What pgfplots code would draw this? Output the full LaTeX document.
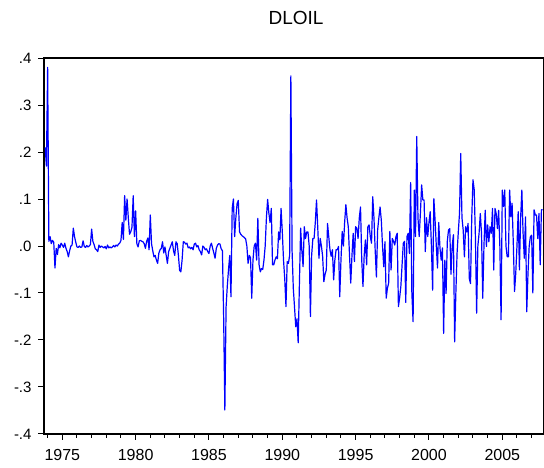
\documentclass[border=0pt]{standalone}
\usepackage{fontspec}
\setmainfont{Liberation Sans}
\usepackage{pgfplots}
\usepackage{pgfplotstable}
\pgfplotsset{compat=1.18}

% DLOIL, monthly, starting 1973M11
\pgfplotstableread[row sep=\\]{
y\\
0.21\\ 0.17\\
0.38\\ 0.01\\ 0.02\\ 0.005\\ 0.012\\ 0.008\\ -0.047\\ -0.005\\ -0.018\\ 0.003\\ -0.004\\ 0.006\\
0.002\\ -0.003\\ 0.006\\ -0.005\\ -0.012\\ -0.023\\ -0.01\\ 0.0\\ 0.002\\ 0.038\\ 0.02\\ 0.008\\
-0.002\\ -0.003\\ 0.0\\ -0.003\\ -0.002\\ 0.011\\ -0.001\\ -0.003\\ 0.001\\ -0.002\\ 0.0\\ 0.003\\
0.036\\ 0.01\\ 0.003\\ -0.006\\ -0.008\\ -0.012\\ 0.002\\ -0.003\\ 0.0\\ -0.002\\ -0.004\\ -0.001\\
-0.006\\ 0.002\\ -0.004\\ -0.002\\ -0.004\\ -0.002\\ 0.001\\ -0.002\\ 0.002\\ 0.0\\ 0.004\\ 0.006\\
0.012\\ 0.05\\ 0.014\\ 0.107\\ 0.055\\ 0.1\\ 0.06\\ 0.025\\ 0.03\\ 0.04\\ 0.107\\ 0.02\\
0.075\\ 0.005\\ -0.002\\ 0.011\\ 0.012\\ 0.01\\ 0.009\\ 0.005\\ -0.005\\ 0.01\\ 0.017\\ -0.008\\
0.066\\ 0.005\\ -0.01\\ -0.023\\ -0.02\\ -0.03\\ -0.037\\ -0.015\\ -0.008\\ -0.005\\ 0.009\\ -0.015\\
-0.002\\ -0.02\\ -0.037\\ -0.012\\ -0.005\\ 0.002\\ 0.009\\ -0.01\\ -0.02\\ 0.009\\ 0.005\\ -0.02\\
-0.052\\ -0.055\\ -0.03\\ 0.009\\ 0.008\\ 0.004\\ 0.006\\ -0.004\\ -0.002\\ -0.006\\ -0.003\\ -0.008\\
0.004\\ 0.006\\ -0.002\\ 0.001\\ -0.008\\ -0.012\\ -0.019\\ 0.0\\ -0.003\\ -0.008\\ -0.006\\ -0.012\\
-0.016\\ 0.0\\ 0.006\\ -0.005\\ -0.015\\ -0.026\\ -0.005\\ 0.002\\ 0.005\\ 0.004\\ -0.006\\ -0.01\\
-0.15\\ -0.349\\ -0.13\\ -0.085\\ -0.05\\ -0.02\\ -0.108\\ 0.08\\ 0.10\\ 0.02\\ 0.06\\ 0.09\\
0.097\\ 0.03\\ 0.025\\ 0.022\\ 0.02\\ 0.018\\ 0.015\\ 0.0\\ -0.037\\ -0.02\\ -0.025\\ -0.111\\
-0.03\\ 0.0\\ 0.006\\ -0.03\\ 0.059\\ -0.04\\ -0.055\\ -0.048\\ -0.05\\ -0.03\\ 0.0\\ 0.06\\
0.099\\ 0.07\\ 0.05\\ 0.08\\ -0.04\\ -0.04\\ -0.03\\ -0.023\\ -0.027\\ 0.03\\ 0.013\\ 0.08\\
0.03\\ -0.03\\ -0.07\\ -0.129\\ -0.033\\ -0.037\\ -0.02\\ 0.362\\ -0.01\\ -0.09\\ -0.13\\ -0.172\\
-0.155\\ -0.206\\ -0.08\\ 0.038\\ -0.01\\ -0.044\\ 0.041\\ 0.016\\ 0.03\\ 0.03\\ 0.0\\ -0.15\\
-0.02\\ 0.016\\ 0.016\\ 0.05\\ 0.098\\ 0.04\\ -0.026\\ 0.016\\ 0.0\\ -0.022\\ -0.076\\ -0.06\\
-0.051\\ 0.048\\ 0.02\\ -0.008\\ -0.022\\ -0.008\\ -0.072\\ -0.03\\ -0.008\\ -0.008\\ -0.001\\ -0.108\\
-0.03\\ 0.031\\ 0.0\\ 0.05\\ 0.088\\ 0.06\\ 0.041\\ -0.02\\ -0.079\\ -0.02\\ 0.027\\ -0.033\\
0.041\\ 0.038\\ 0.016\\ 0.06\\ 0.083\\ -0.03\\ -0.086\\ -0.02\\ 0.013\\ -0.04\\ 0.041\\ 0.045\\
0.02\\ 0.006\\ 0.105\\ 0.06\\ -0.01\\ -0.066\\ 0.034\\ 0.06\\ 0.083\\ 0.055\\ 0.0\\ -0.044\\
0.009\\ -0.111\\ -0.09\\ -0.079\\ 0.031\\ -0.051\\ 0.016\\ 0.01\\ 0.002\\ 0.02\\ 0.027\\ -0.129\\
-0.11\\ -0.086\\ -0.04\\ 0.006\\ 0.01\\ -0.12\\ 0.02\\ 0.027\\ -0.016\\ 0.135\\ -0.1\\ -0.161\\
0.119\\ 0.02\\ 0.233\\ 0.06\\ 0.02\\ 0.07\\ 0.13\\ 0.098\\ 0.098\\ -0.012\\ 0.06\\ 0.02\\
0.05\\ 0.073\\ 0.0\\ -0.094\\ 0.101\\ 0.055\\ 0.0\\ -0.047\\ 0.05\\ -0.004\\ -0.03\\ -0.004\\
-0.186\\ -0.03\\ -0.101\\ 0.01\\ 0.034\\ 0.037\\ -0.06\\ 0.0\\ 0.024\\ -0.204\\ -0.1\\ -0.015\\
0.03\\ 0.07\\ 0.197\\ 0.06\\ 0.034\\ -0.023\\ 0.041\\ 0.03\\ 0.048\\ -0.069\\ -0.08\\ 0.06\\
0.141\\ 0.12\\ 0.02\\ -0.143\\ 0.0\\ 0.027\\ 0.069\\ 0.027\\ -0.111\\ 0.0\\ 0.076\\ -0.001\\
0.045\\ 0.009\\ 0.041\\ 0.027\\ 0.08\\ -0.051\\ 0.08\\ 0.069\\ 0.037\\ 0.076\\ 0.0\\ -0.157\\
0.119\\ 0.084\\ 0.119\\ 0.0\\ -0.023\\ -0.023\\ 0.119\\ 0.062\\ 0.091\\ 0.006\\ -0.097\\ -0.058\\
0.0\\ 0.073\\ -0.051\\ 0.06\\ 0.119\\ 0.027\\ -0.026\\ 0.062\\ -0.14\\ -0.06\\ 0.0\\ 0.02\\
0.023\\ -0.1\\ 0.077\\ 0.066\\ 0.066\\ 0.016\\ 0.069\\ -0.04\\ 0.077\\ 0.077\\
}\oildata

\begin{document}
\begin{tikzpicture}
\useasboundingbox (-44pt,-34pt) rectangle (500pt,434pt);
\begin{axis}[
  at={(0pt,0pt)}, anchor=south west,
  scale only axis, width=500pt, height=376pt,
  xmin=1973.752, xmax=2007.843, ymin=-0.4, ymax=0.4,
  axis line style={black, line width=1.3pt},
  tick align=outside,
  xtick pos=bottom, ytick pos=left,
  xtick={1975,1980,1985,1990,1995,2000,2005},
  xticklabels={1975,1980,1985,1990,1995,2000,2005},
  minor xtick={1974,1975,...,2007},
  ytick={-0.4,-0.3,-0.2,-0.1,0,0.1,0.2,0.3,0.4},
  yticklabels={-.4,-.3,-.2,-.1,.0,.1,.2,.3,.4},
  major tick length=6pt, minor tick length=4pt,
  every tick/.style={black, line width=1pt},
  xticklabel style={font=\fontsize{16}{16}\selectfont, anchor=north, inner sep=0pt, yshift=-9pt},
  yticklabel style={font=\fontsize{15}{15}\selectfont, anchor=east, inner sep=0pt, xshift=-6.3pt},
  clip=true,
]
\addplot[color={rgb,255:red,0;green,0;blue,255}, line width=1.2pt, line join=round] table[x expr=\coordindex/12+1973.8333, y=y] {\oildata};
\end{axis}
\node[font=\fontsize{19}{19}\selectfont, inner sep=0pt] at (252pt,416pt) {DLOIL};
\end{tikzpicture}
\end{document}
